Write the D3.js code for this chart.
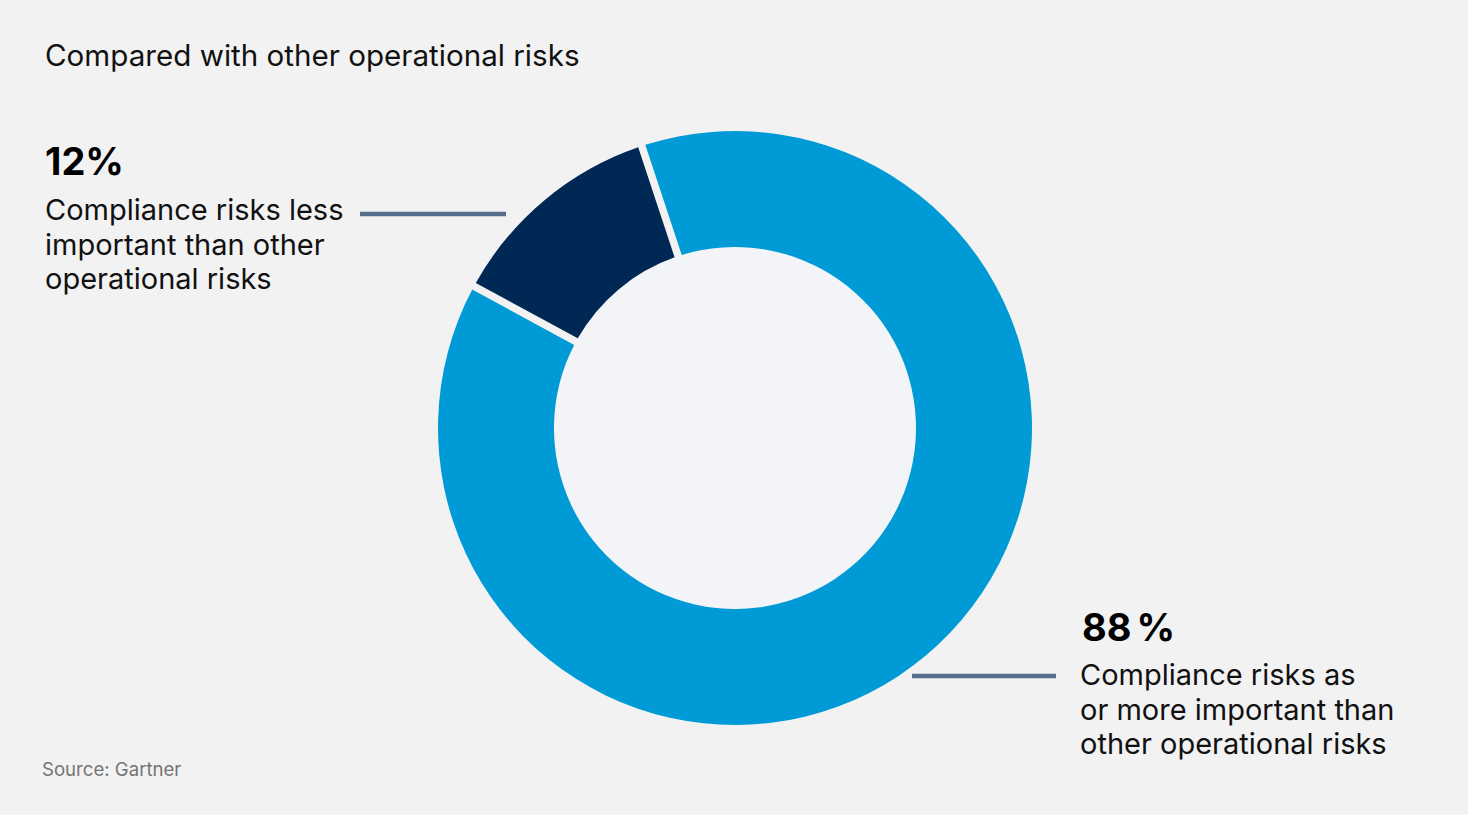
<!DOCTYPE html>
<html>
<head>
<meta charset="utf-8">
<script src="https://cdn.jsdelivr.net/npm/d3@7/dist/d3.min.js"></script>
<style>
  body { margin: 0; background: #f2f2f2; }
  svg { display: block; }
  text { font-family: Inter, "Noto Sans", sans-serif; }
</style>
</head>
<body>
<div id="chart"></div>
<script>
let width = 1468
let height = 815

// data
let categories = ['Compliance risks less important than other operational risks', 'Compliance risks as or more important than other operational risks']
let values = [12, 88]
let pctNumbers = ['12', '88']
let labelLines = [
  ['Compliance risks less', 'important than other', 'operational risks'],
  ['Compliance risks as', 'or more important than', 'other operational risks']
]
let colors = ['#002855', '#009bd6']

let cx = 735
let cy = 428
let outerR = 297
let innerR = 181

let svg = d3
  .select('#chart')
  .append('svg')
  .attr('width', width)
  .attr('height', height)

svg.append('rect')
  .attr('width', width)
  .attr('height', height)
  .attr('fill', '#f2f2f2')

svg.append('text')
  .attr('x', 45)
  .attr('y', 66)
  .attr('font-size', 29.6)
  .attr('fill', '#111')
  .text('Compared with other operational risks')

let g = svg.append('g').attr('transform', `translate(${cx},${cy})`)

// inner disc is a touch bluer than the page
g.append('circle')
  .attr('r', innerR)
  .attr('fill', '#f2f4f7')

let pie = d3.pie()
  .sort(null)
  .startAngle(-61.5 * Math.PI / 180)
  .endAngle(-61.5 * Math.PI / 180 + 2 * Math.PI)

let arc = d3.arc()
  .innerRadius(innerR)
  .outerRadius(outerR)
  .padRadius(outerR)
  .padAngle(7.5 / outerR)

g.selectAll('path')
  .data(pie(values))
  .enter()
  .append('path')
  .attr('d', arc)
  .attr('fill', function (d, i) { return colors[i] })

// leader lines
let leaders = [
  { x1: 360, x2: 506, y: 214 },
  { x1: 912, x2: 1056, y: 676 }
]
svg.selectAll('.leader')
  .data(leaders)
  .enter()
  .append('line')
  .attr('class', 'leader')
  .attr('x1', function (d) { return d.x1 })
  .attr('x2', function (d) { return d.x2 })
  .attr('y1', function (d) { return d.y })
  .attr('y2', function (d) { return d.y })
  .attr('stroke', '#566d8c')
  .attr('stroke-width', 4.5)

let labelPos = [
  { x: 45, y: 175, gap: 0, lead: 45 },
  { x: 1082, y: 641, gap: 5, lead: 44 }
]

labelPos.forEach(function (p, i) {
  let pct = svg.append('text')
    .attr('x', p.x)
    .attr('y', p.y)
    .attr('font-size', 38)
    .attr('font-weight', 700)
    .attr('fill', '#000')
  pct.append('tspan').text(pctNumbers[i])
  pct.append('tspan').attr('dx', p.gap).text('%')
  let t = svg.append('text')
    .attr('x', p.x)
    .attr('y', p.y + p.lead)
    .attr('font-size', 29)
    .attr('fill', '#111')
  labelLines[i].forEach(function (line, j) {
    t.append('tspan')
      .attr('x', i === 0 ? p.x : p.x - 2)
      .attr('dy', j === 0 ? 0 : 34.5)
      .text(line)
  })
})

svg.append('text')
  .attr('x', 42)
  .attr('y', 776)
  .attr('font-size', 18.6)
  .attr('fill', '#757575')
  .text('Source: Gartner')
</script>
</body>
</html>
